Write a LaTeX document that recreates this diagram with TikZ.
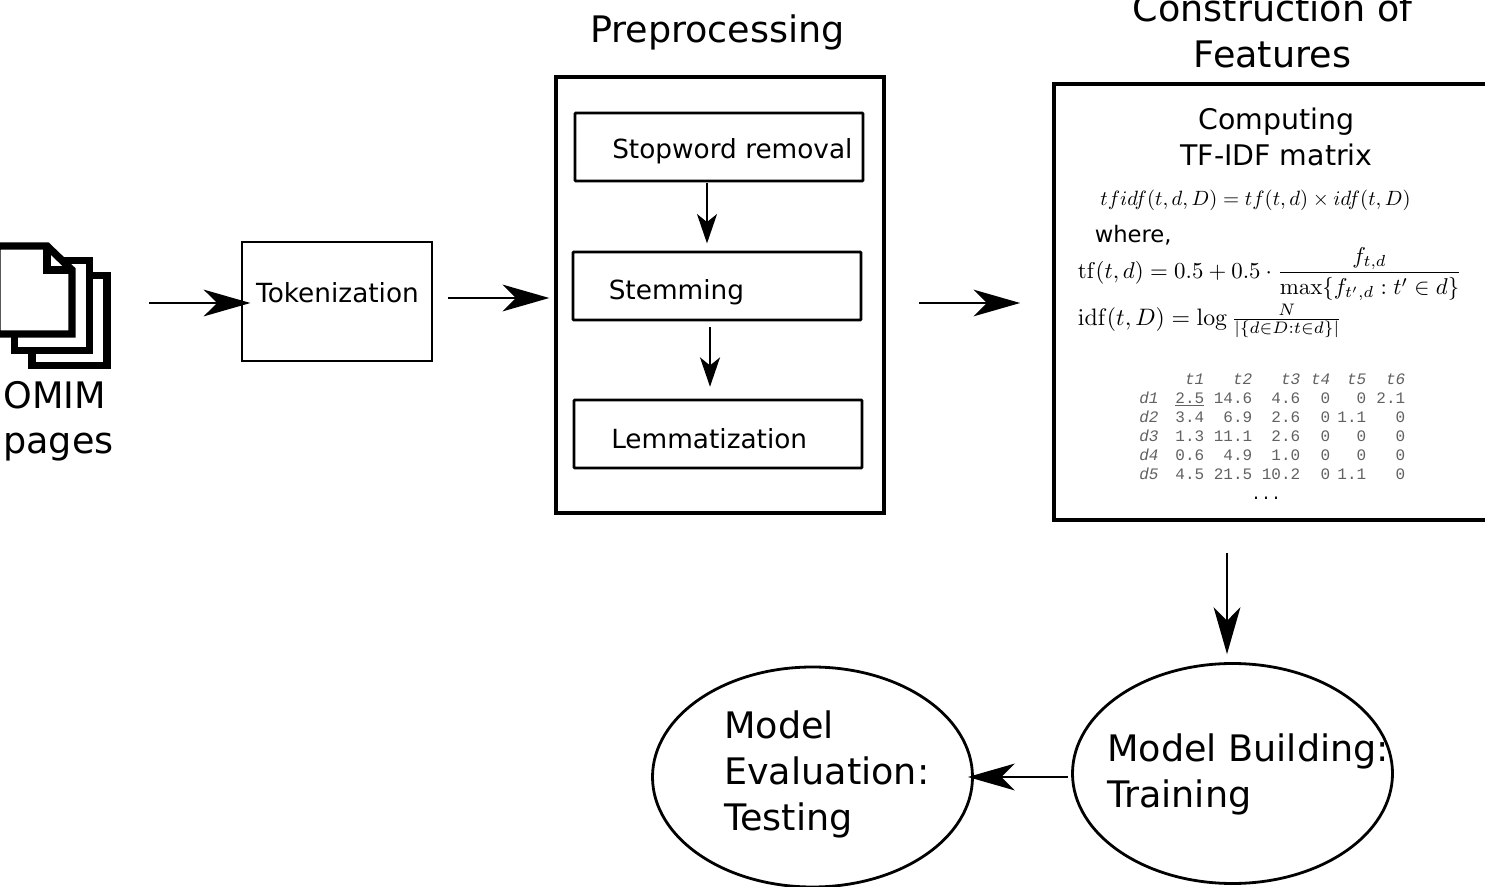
\documentclass[tikz,border=0pt]{standalone}
\usepackage[no-math]{fontspec}
\usepackage{array}
\setmainfont{DejaVu Sans}
\newfontfamily\tablefont{Liberation Mono}
\usetikzlibrary{arrows.meta,shapes.geometric}
\begin{document}
\begin{tikzpicture}[x=0.75pt,y=-0.75pt]
	\tikzset{bigflow/.style = {-{Stealth[length=35pt,width=20pt,inset=10pt]},line width=2.2pt}}
	\tikzset{smallflow/.style = {-{Stealth[length=22pt,width=15pt,inset=6pt]},line width=1.6pt}}
	\tikzset{stepbox/.style = {draw,line width=1.9pt,rounded corners=0.5pt,minimum width=216pt,minimum height=51pt,inner sep=0}}
	\tikzset{bigbox/.style = {draw,line width=3pt,inner sep=0,outer sep=0}}
	\tikzset{blob/.style = {shape=ellipse,draw,line width=2.1pt,minimum width=240pt,minimum height=165pt,inner sep=0}}
	\tikzset{bigtext/.style = {font=\fontsize{27.4}{34.5}\selectfont,align=left,inner sep=0}}
	\tikzset{midtext/.style = {font=\fontsize{19.75}{27}\selectfont,inner sep=0}}
	\tikzset{formula/.style = {inner sep=0,anchor=west}}
	\tikzset{page/.style = {draw,fill=white,line width=5.6pt,miter limit=10}}
	\useasboundingbox (0,0) rectangle (1485,887);
	% document stack
	\draw[page] (32,275.5) rectangle (107,365.5);
	\draw[page] (14.5,260.5) rectangle (89.5,350.5);
	\draw[page] (-3,246) -- (47,246) -- (72,270) -- (72,334) -- (-3,334) -- cycle;
	\draw[line width=5.6pt] (47,246) -- (47,270) -- (72,270);
	\node[bigtext,anchor=base west] (omim) at (3,409) {OMIM};
	\node[bigtext,anchor=base west] (pages) at (3,454) {pages};
	% tokenization
	\node[draw,line width=1.4pt,minimum width=142.5pt,minimum height=89.25pt,inner sep=0] (tok) at (337,301.5) {};
	\node[midtext] (toktext) at (337.5,293) {Tokenization};
	% preprocessing
	\node[bigtext] (pretitle) at (717.5,32.5) {Preprocessing};
	\node[bigbox,minimum width=246pt,minimum height=327pt] (pre) at (720,295) {};
	\node[stepbox] (stop) at (719,147) {};
	\node[stepbox] (stem) at (717,286) {};
	\node[stepbox] (lemma) at (718,434) {};
	\node[midtext,anchor=west] (stoptext) at (612,151) {Stopword removal};
	\node[midtext,anchor=west] (stemtext) at (608.5,292) {Stemming};
	\node[midtext,anchor=west] (lemmatext) at (611,439) {Lemmatization};
	% features
	\node[bigtext,align=center] (feattitle) at (1272.5,31) {Construction of\\Features};
	\node[bigbox,anchor=north west,minimum width=360pt,minimum height=327pt] (feat) at (1053.5,84) {};
	\node[midtext,align=center,font=\fontsize{21.3}{27}\selectfont] (comp) at (1276.5,137) {Computing\\TF-IDF matrix};
	\node[formula,scale=1.55] (tfidf) at (1100,200.5) {$tfidf(t,d,D)=tf(t,d)\times idf(t,D)$};
	\node[formula,font=\fontsize{17}{20}\selectfont] (where) at (1094.5,235) {where,};
	\node[formula,scale=1.715] (tf) at (1077.5,274) {$\mathrm{tf}(t,d)=0.5+0.5\cdot{\displaystyle\frac{f_{t,d}}{\max\{f_{t',d}:t'\in d\}}}$};
	\node[formula,scale=1.785] (idf) at (1077.5,321) {$\mathrm{idf}(t,D)=\log\frac{N}{|\{d\in D:t\in d\}|}$};
	\node[inner sep=0,anchor=north west,text=black!62,font=\tablefont\fontsize{12}{14.25}\selectfont] (table) at (1139,371) {%
		\setlength{\tabcolsep}{0pt}\renewcommand{\arraystretch}{1}%
		\begin{tabular}{w{l}{48.75pt}w{r}{0pt}w{r}{36pt}w{r}{36pt}w{r}{22.5pt}w{r}{27pt}w{r}{29.25pt}}
			\itshape & \itshape t1 & \itshape t2 & \itshape t3 & \itshape t4 & \itshape t5 & \itshape t6\\
			\itshape d1 & \underline{2.5} & 14.6 & 4.6 & 0 & 0 & 2.1\\
			\itshape d2 & 3.4 & 6.9 & 2.6 & 0 & 1.1 & 0\\
			\itshape d3 & 1.3 & 11.1 & 2.6 & 0 & 0 & 0\\
			\itshape d4 & 0.6 & 4.9 & 1.0 & 0 & 0 & 0\\
			\itshape d5 & 4.5 & 21.5 & 10.2 & 0 & 1.1 & 0
		\end{tabular}};
	\node[inner sep=0,anchor=base,font=\tablefont\fontsize{12.5}{16}\selectfont] (dots) at (1266,500) {...};
	% models
	\node[blob] (build) at (1232.5,773.5) {};
	\node[blob] (eval) at (812.5,777) {};
	\node[bigtext,anchor=west] (buildtext) at (1107,774) {Model Building:\\Training};
	\node[bigtext,anchor=west] (evaltext) at (724,774) {Model\\Evaluation:\\Testing};
	% connectors
	\coordinate (tokin) at (149,303);
	\coordinate (prein) at (448,298);
	\coordinate (featin) at (919,303);
	\coordinate (buildin) at (1227,553);
	\coordinate (evalin) at (1068,777);
	\coordinate (stopout) at (707,183);
	\coordinate (stemout) at (710,327);
	\draw[bigflow,shorten >=-7pt] (tokin) -- (tokin -| tok.west);
	\draw[bigflow,shorten >=5pt] (prein) -- (prein -| pre.west);
	\draw[bigflow,shorten >=25pt] (featin) -- (featin -| feat.west);
	\draw[bigflow,shorten >=6pt] (buildin) -- (buildin |- build.north);
	\draw[bigflow,shorten >=-4.5pt] (evalin) -- (evalin -| eval.east);
	\draw[smallflow,shorten >=5.5pt] (stopout) -- (stopout |- stem.north);
	\draw[smallflow,shorten >=9pt] (stemout) -- (stemout |- lemma.north);
\end{tikzpicture}
\end{document}
